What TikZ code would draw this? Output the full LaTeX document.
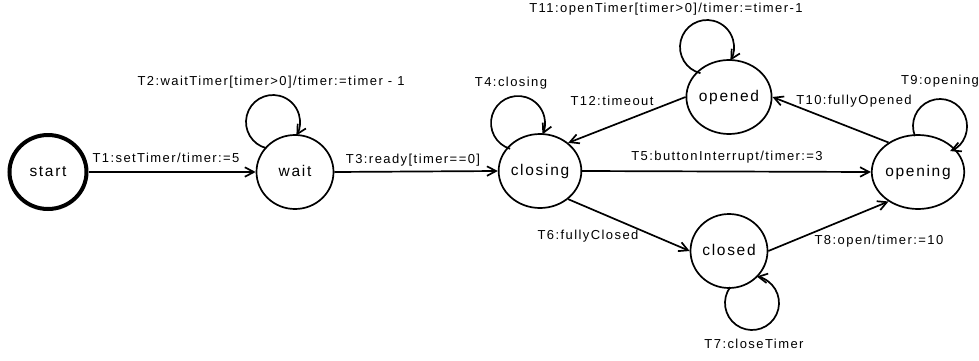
\documentclass[tikz,border=0pt]{standalone}
\usepackage{fontspec}
\setmainfont{Liberation Sans}
\newfontfamily\lblfont[LetterSpace=11]{Liberation Sans}
\usetikzlibrary{shapes.geometric,arrows.meta,calc}
\tikzset{
  state/.style={draw, ellipse, line width=1.7pt, minimum width=77pt, minimum height=74pt, inner sep=0pt,
    font=\lblfont\fontsize{15.5}{17}\selectfont, text height=11pt, text depth=3pt},
  initstate/.style={state, line width=4pt},
  trans/.style={line width=1.7pt, -{Straight Barb[length=9pt,width=9.5pt]}},
  lbl/.style={font=\lblfont\fontsize{13}{15}\selectfont, anchor=base, inner sep=0pt}
}
\begin{document}
\begin{tikzpicture}[x=1pt,y=1pt]
\useasboundingbox (0,0) rectangle (979,360);
% states
\node[initstate] (start)   at (48,188)  {start};
\node[state]     (wait)    at (295,188) {wait};
\node[state]     (closing) at (540,189) {closing};
\node[state]     (opened)  at (729,263) {opened};
\node[state]     (opening) at (918,188) {opening};
\node[state]     (closed)  at (729,109) {closed};
% transitions
\draw[trans] (start.east) -- (wait.west);
\draw[trans] (wait.east) -- (closing.west);
\draw[trans] (closing.east) -- (opening.west);
\draw[trans] (opened.west) -- (closing.45);
\draw[trans] (opening.135) -- (opened.east);
\draw[trans] (closing.-45) -- (closed.west);
\draw[trans] (closed.east) -- (opening.-135);
% self loops
\draw[trans] ($(wait)+(-22,50)+(256:27)$) arc[start angle=256, end angle=-30, radius=27];
\draw[trans] ($(closing)+(-22,48)+(253:27)$) arc[start angle=253, end angle=-25, radius=27];
\draw[trans] ($(opened)+(-22,50)+(256:27)$) arc[start angle=256, end angle=-30, radius=27];
\draw[trans] ($(opening)+(22,46)+(202:27)$) arc[start angle=202, end angle=-68, radius=27];
\draw[trans] ($(closed)+(23,-52)+(144:27)$) arc[start angle=144, end angle=440, radius=27];
% labels
\node[lbl] (l1)  at (166,197.3) {T1:setTimer/timer:=5};
\node[lbl] (l2)  at (271,275)   {T2:waitTimer[timer>0]/timer:=timer - 1};
\node[lbl] (l3)  at (413,197)   {T3:ready[timer==0]};
\node[lbl] (l4)  at (511,274)   {T4:closing};
\node[lbl] (l5)  at (727,200)   {T5:buttonInterrupt/timer:=3};
\node[lbl] (l6)  at (588,121)   {T6:fullyClosed};
\node[lbl] (l7)  at (754,12)    {T7:closeTimer};
\node[lbl] (l8)  at (879,116)   {T8:open/timer:=10};
\node[lbl] (l9)  at (940,276)   {T9:opening};
\node[lbl] (l10) at (854,256)   {T10:fullyOpened};
\node[lbl] (l11) at (666,348)   {T11:openTimer[timer>0]/timer:=timer-1};
\node[lbl] (l12) at (612,254.3) {T12:timeout};
\end{tikzpicture}
\end{document}
